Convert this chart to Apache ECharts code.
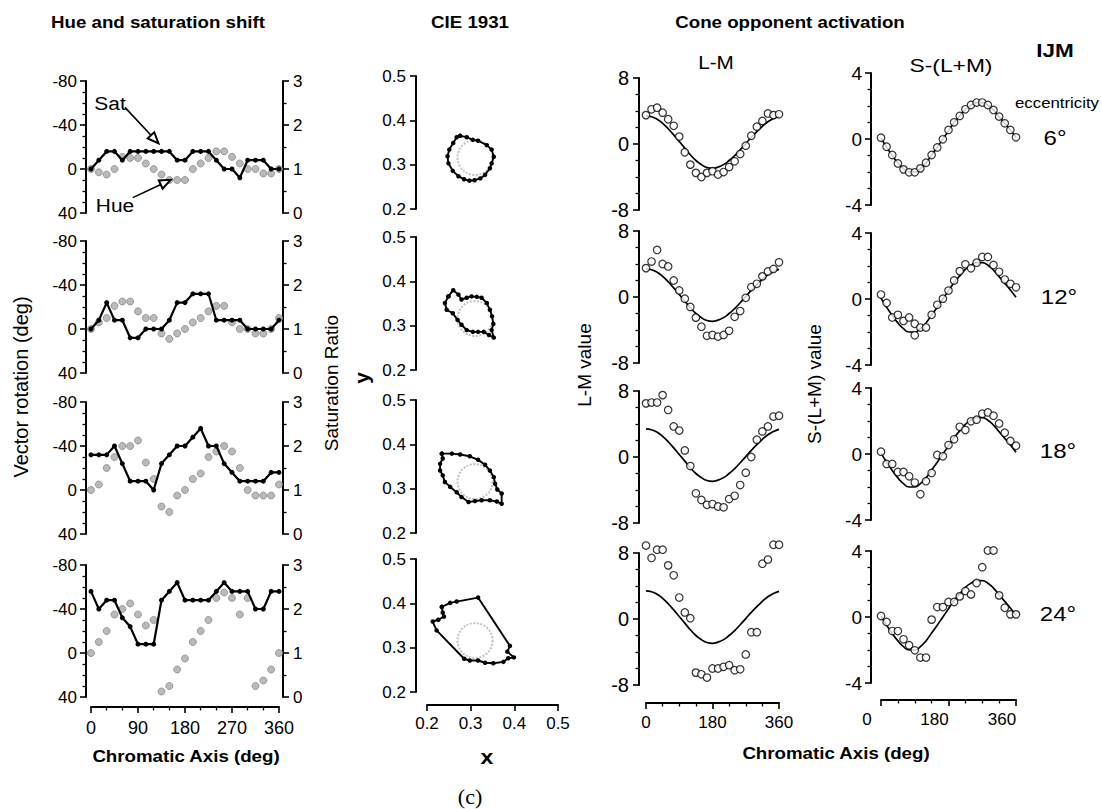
<!DOCTYPE html>
<html><head><meta charset="utf-8">
<script src="https://cdn.jsdelivr.net/npm/echarts@6/dist/echarts.min.js"></script>
<style>html,body{margin:0;padding:0;background:#fff}#c{width:1101px;height:809px}</style>
</head><body><div id="c"></div>
<script>
// ---------- DATA ----------
const chromaticAxis = [0,15,30,45,60,75,90,105,120,135,150,165,180,195,210,225,240,255,270,285,300,315,330,345,360];
const eccentricities = ['6°','12°','18°','24°'];

// Hue (vector rotation, deg) and saturation ratio per eccentricity
const hue6  = [0,3,5,0,-11,-10,-10,-5,0,5,10,10,10,0,-5,-10,-16,-16,-11,-5,0,0,4,4,0];
const hue12 = [0,-6,-10,-21,-25,-25,-16,-10,-10,4,9,4,0,-6,-10,-16,-21,-21,-6,0,0,4,4,0,-10];
const hue18 = [0,-5,-20,-30,-40,-40,-45,-25,-10,15,20,5,0,-10,-15,-30,-35,-40,-35,-20,0,5,5,5,-5];
const hue24 = [0,-10,-20,-35,-40,-45,-35,-25,-30,35,30,15,5,-10,-20,-30,-50,-55,-50,-35,-50,30,25,15,0];
const sat6  = [1.0,1.2,1.4,1.4,1.2,1.4,1.4,1.4,1.4,1.4,1.4,1.2,1.2,1.4,1.4,1.4,1.2,1.0,1.0,0.8,1.2,1.2,1.2,1.0,1.0];
const sat12 = [1.0,1.2,1.6,1.2,1.2,0.8,0.8,1.0,1.0,1.0,1.2,1.6,1.6,1.8,1.8,1.8,1.2,1.2,1.2,1.2,1.0,1.0,1.0,1.0,1.2];
const sat18 = [1.8,1.8,1.8,2.0,1.6,1.2,1.2,1.2,1.0,1.6,1.8,2.0,2.0,2.2,2.4,2.0,2.0,1.6,1.4,1.2,1.2,1.2,1.2,1.4,1.4];
const sat24 = [2.4,2.0,2.2,2.2,1.8,1.6,1.2,1.2,1.2,2.2,2.4,2.6,2.2,2.2,2.2,2.2,2.4,2.6,2.4,2.4,2.4,2.0,2.0,2.4,2.4];

// CIE 1931 xy loci (measured, closed outlines)
const cie6x  = [0.276,0.291,0.305,0.317,0.337,0.348,0.353,0.348,0.344,0.333,0.322,0.309,0.297,0.285,0.272,0.259,0.249,0.247,0.251,0.260,0.268,0.276];
const cie6y  = [0.365,0.362,0.356,0.354,0.344,0.334,0.318,0.303,0.292,0.277,0.269,0.265,0.264,0.267,0.274,0.286,0.303,0.319,0.334,0.349,0.362,0.365];
const cie12x = [0.249,0.260,0.272,0.279,0.291,0.302,0.314,0.325,0.337,0.344,0.349,0.352,0.348,0.353,0.342,0.330,0.317,0.305,0.291,0.279,0.270,0.259,0.245,0.241,0.249];
const cie12y = [0.366,0.380,0.370,0.359,0.363,0.366,0.365,0.363,0.351,0.336,0.321,0.304,0.290,0.273,0.279,0.286,0.286,0.286,0.290,0.302,0.313,0.328,0.336,0.351,0.366];
const cie18x = [0.234,0.257,0.276,0.298,0.317,0.333,0.344,0.353,0.356,0.361,0.371,0.371,0.360,0.344,0.325,0.310,0.295,0.279,0.268,0.253,0.241,0.236,0.230,0.230,0.236,0.234];
const cie18y = [0.379,0.379,0.377,0.373,0.365,0.354,0.341,0.326,0.311,0.298,0.289,0.266,0.271,0.274,0.274,0.272,0.270,0.281,0.292,0.304,0.315,0.330,0.341,0.356,0.368,0.379];
const cie24x = [0.234,0.253,0.268,0.317,0.390,0.384,0.399,0.386,0.375,0.352,0.333,0.317,0.298,0.285,0.222,0.213,0.226,0.239,0.236,0.234];
const cie24y = [0.392,0.401,0.404,0.413,0.304,0.291,0.278,0.276,0.268,0.265,0.266,0.271,0.271,0.275,0.339,0.359,0.363,0.370,0.379,0.392];
const cieReference = [0.31, 0.316]; // centre of the grey reference locus

// Cone opponent activation
const lm6  = [3.5,4.2,4.4,3.8,3.0,2.2,0.9,-1.0,-2.5,-3.5,-4.0,-3.5,-3.3,-3.7,-3.4,-2.8,-2.1,-1.2,-0.2,1.0,2.1,2.8,3.7,3.5,3.6];
const lm12 = [3.5,4.3,5.7,4.0,3.7,2.0,0.8,-0.2,-1.2,-2.5,-3.6,-4.7,-4.6,-4.8,-4.6,-4.1,-2.4,-1.7,-0.1,1.2,1.6,2.5,3.1,3.4,4.2];
const lm18 = [6.5,6.6,6.6,7.5,5.7,3.7,3.2,0.8,-1.1,-4.4,-5.2,-5.8,-5.7,-6.0,-6.1,-5.1,-4.7,-3.4,-1.9,0.0,2.1,3.1,3.7,4.9,5.0];
const lm24 = [8.9,7.4,8.4,8.4,6.5,5.3,2.6,0.8,0.1,-6.5,-6.7,-7.1,-6.0,-6.0,-5.8,-5.6,-6.2,-6.1,-4.3,-1.6,-1.6,6.7,7.2,9.0,9.0];
const lmFit = [3.4,3.3,3.0,2.5,1.85,1.1,0.3,-0.5,-1.3,-2.0,-2.5,-2.85,-2.95,-2.8,-2.5,-2.0,-1.4,-0.7,0.05,0.8,1.5,2.15,2.7,3.1,3.35];

const s6  = [0.08,-0.47,-0.97,-1.48,-1.84,-2.02,-2.02,-1.78,-1.44,-0.97,-0.51,-0.02,0.55,1.01,1.40,1.80,2.06,2.21,2.21,2.06,1.76,1.36,0.95,0.55,0.10];
const s12 = [0.27,-0.24,-1.12,-0.96,-1.33,-1.12,-1.5,-1.73,-1.73,-0.96,-0.35,0.02,0.51,1.12,1.69,2.10,1.86,2.20,2.55,2.55,2.06,1.65,1.18,0.92,0.71];
const s12extra = [[90,-2.2]];
const s18 = [0.14,-0.6,-0.6,-1.09,-1.09,-1.35,-1.73,-2.44,-1.65,-1.15,-0.06,-0.14,0.54,0.89,1.65,1.45,1.98,2.08,2.44,2.52,2.32,1.85,1.29,0.79,0.50];
const s24 = [0.06,-0.3,-0.85,-0.85,-1.35,-1.71,-2.02,-2.46,-2.46,-0.16,0.6,0.6,0.91,0.91,1.25,1.57,1.37,2.06,3.02,4.03,4.03,1.31,0.56,0.16,0.16];
const sFit = [0.05,-0.5,-1.0,-1.45,-1.8,-2.0,-2.0,-1.8,-1.45,-0.97,-0.5,0.0,0.5,1.0,1.4,1.8,2.05,2.2,2.2,2.05,1.75,1.35,0.95,0.55,0.1];

// ---------- CHART ----------
const FONT = 'Arial, "Liberation Sans", sans-serif';
const chart = echarts.init(document.getElementById('c'), null, {renderer:'svg'});
const grid=[], xAxis=[], yAxis=[], series=[];

function mkAxis(o){
  return {
    type:'value', gridIndex:o.gridIndex, min:o.min, max:o.max, interval:o.interval,
    inverse:!!o.inverse, position:o.position, offset:o.offset||0, show:o.show!==false,
    splitLine:{show:false},
    axisLine:{show:true, onZero:false, lineStyle:{color:'#000', width:o.lw||2}},
    axisTick:{show:true, length:6, lineStyle:{color:'#000', width:1.6}},
    minorTick:{show:!!o.minor, splitNumber:o.minor||5, length:3.5, lineStyle:{color:'#000', width:1.3}},
    axisLabel:{color:'#000', fontFamily:FONT, fontSize:o.fontSize||15, margin:o.margin||8,
      formatter:o.formatter, padding:o.padding||0}
  };
}
function pairs(xs, ys){ return xs.map((x,j)=>[x, ys[j]]); }

// Column 1: hue and saturation shift
const hueSets=[hue6,hue12,hue18,hue24], satSets=[sat6,sat12,sat18,sat24];
const c1Tops=[81,241,402,565];
for(let i=0;i<4;i++){
  const g=grid.length; grid.push({left:91, top:c1Tops[i], width:188, height:132});
  const xi=xAxis.length; xAxis.push(mkAxis({gridIndex:g,min:0,max:360,interval:90,show:i===3,offset:10,minor:3,fontSize:18,margin:12}));
  const yl=yAxis.length; yAxis.push(mkAxis({gridIndex:g,min:-80,max:40,interval:40,inverse:true,position:'left',offset:5,minor:4,fontSize:17,margin:9}));
  const yr=yAxis.length; yAxis.push(mkAxis({gridIndex:g,min:0,max:3,interval:1,position:'right',offset:4,minor:2,fontSize:17,margin:10}));
  const hs={type:'scatter', xAxisIndex:xi, yAxisIndex:yl, data:pairs(chromaticAxis,hueSets[i]), symbol:'circle', symbolSize:7,
    itemStyle:{color:'#a9a9a9', borderColor:'#8a8a8a', borderWidth:1}, z:2, clip:false};
  if(i===0){
    hs.markLine={silent:true, animation:false, symbol:['none','emptyTriangle'], symbolSize:[9,11],
      lineStyle:{color:'#000', width:1.6, type:'solid'}, label:{show:false},
      data:[[{coord:[65,-56]},{coord:[122,-27]}],[{coord:[80,26]},{coord:[143,12]}]]};
  }
  series.push(hs);
  series.push({type:'line', xAxisIndex:xi, yAxisIndex:yr, data:pairs(chromaticAxis,satSets[i]), symbol:'circle', symbolSize:5,
    itemStyle:{color:'#000'}, lineStyle:{color:'#000', width:2.2}, z:3, clip:false});
}

// Column 2: CIE 1931
const cieX=[cie6x,cie12x,cie18x,cie24x], cieY=[cie6y,cie12y,cie18y,cie24y];
const c2Tops=[76,237,400,559];
const f1=v=>v.toFixed(1);
for(let i=0;i<4;i++){
  const g=grid.length; grid.push({left:427, top:c2Tops[i], width:131, height:133});
  const xi=xAxis.length; xAxis.push(mkAxis({gridIndex:g,min:0.2,max:0.5,interval:0.1,show:i===3,offset:13,fontSize:17,margin:10,formatter:f1}));
  const yi=yAxis.length; yAxis.push(mkAxis({gridIndex:g,min:0.2,max:0.5,interval:0.1,position:'left',offset:11,fontSize:17,margin:10,formatter:f1}));
  series.push({type:'scatter', xAxisIndex:xi, yAxisIndex:yi, data:[cieReference], symbol:'circle', symbolSize:35,
    itemStyle:{color:'rgba(0,0,0,0)', borderColor:'#b3b3b3', borderWidth:2, borderType:[2,1.5]}, z:1});
  series.push({type:'line', xAxisIndex:xi, yAxisIndex:yi, data:pairs(cieX[i],cieY[i]), symbol:'circle', symbolSize:4.5,
    itemStyle:{color:'#000'}, lineStyle:{color:'#000', width:1.9}, z:3, clip:false});
}

// Column 3: L-M
const lmSets=[lm6,lm12,lm18,lm24];
const c3Tops=[78,231,391,553];
const openCircle={color:'#fff', borderColor:'#000', borderWidth:1.2};
for(let i=0;i<4;i++){
  const g=grid.length; grid.push({left:646, top:c3Tops[i], width:133, height:132});
  const xi=xAxis.length; xAxis.push(mkAxis({gridIndex:g,min:0,max:360,interval:180,show:i===3,offset:18,minor:4,fontSize:17,margin:11}));
  const yi=yAxis.length; yAxis.push(mkAxis({gridIndex:g,min:-8,max:8,interval:8,position:'left',offset:7,minor:4,fontSize:20,margin:10}));
  series.push({type:'line', xAxisIndex:xi, yAxisIndex:yi, data:pairs(chromaticAxis,lmFit), smooth:true, symbol:'none',
    lineStyle:{color:'#000', width:1.7}, z:2, clip:false});
  series.push({type:'scatter', xAxisIndex:xi, yAxisIndex:yi, data:pairs(chromaticAxis,lmSets[i]), symbol:'circle', symbolSize:7.5,
    itemStyle:openCircle, z:3, clip:false});
}

// Column 4: S-(L+M)
const sSets=[s6,s12,s18,s24];
const c4Tops=[73,233,388,551];
for(let i=0;i<4;i++){
  const g=grid.length; grid.push({left:881, top:c4Tops[i], width:135, height:132});
  const xi=xAxis.length; xAxis.push(mkAxis({gridIndex:g,min:0,max:360,interval:180,show:i===3,offset:17,minor:4,fontSize:17,margin:11,padding:[0,28,0,0]}));
  const yi=yAxis.length; yAxis.push(mkAxis({gridIndex:g,min:-4,max:4,interval:4,position:'left',offset:10,minor:4,fontSize:19,margin:9}));
  series.push({type:'line', xAxisIndex:xi, yAxisIndex:yi, data:pairs(chromaticAxis,sFit), smooth:true, symbol:'none',
    lineStyle:{color:'#000', width:1.7}, z:2, clip:false});
  const pts=pairs(chromaticAxis,sSets[i]).concat(i===1?s12extra:[]);
  series.push({type:'scatter', xAxisIndex:xi, yAxisIndex:yi, data:pts, symbol:'circle', symbolSize:7.5,
    itemStyle:openCircle, z:3, clip:false});
}

// ---------- TEXT ----------
function txt(text, x, y, size, opt){
  opt=opt||{};
  return {type:'text', x:x, y:y, rotation:opt.rot||0, scaleX:opt.sx||1, z:10, silent:true,
    style:{text:text, fill:'#000', font:(opt.bold?'bold ':'')+size+'px '+(opt.family||FONT),
      textAlign:'center', textVerticalAlign:'middle', align:'center', verticalAlign:'middle'}};
}
const R=Math.PI/2;
const graphic=[
  txt('Hue and saturation shift',158,22,17,{bold:true,sx:1.1}),
  txt('CIE 1931',470,22,17,{bold:true,sx:1.1}),
  txt('Cone opponent activation',790,22,17,{bold:true,sx:1.1}),
  txt('L-M',716,63,18,{sx:1.15}),
  txt('S-(L+M)',951,65,19,{sx:1.2}),
  txt('IJM',1055,51,18,{bold:true,sx:1.25}),
  txt('eccentricity',1057,103,14,{sx:1.2}),
  txt(eccentricities[0],1055,138,20,{sx:1.2}),
  txt(eccentricities[1],1059,297,20,{sx:1.2}),
  txt(eccentricities[2],1058,451,20,{sx:1.2}),
  txt(eccentricities[3],1058,614,20,{sx:1.2}),
  txt('Sat',110,103,19,{sx:1.1}),
  txt('Hue',115,205,19,{sx:1.1}),
  txt('Vector rotation (deg)',21,387,20,{rot:R}),
  txt('Saturation Ratio',331,383,19,{rot:R}),
  txt('y',361,378,21,{rot:R,bold:true}),
  txt('x',487,757,21,{bold:true,sx:1.1}),
  txt('L-M value',584,365,19,{rot:R}),
  txt('S-(L+M) value',814,384,19,{rot:R}),
  txt('Chromatic Axis (deg)',186,756,17,{bold:true,sx:1.1}),
  txt('Chromatic Axis (deg)',836,753,17,{bold:true,sx:1.1}),
  txt('(c)',470,797,20,{family:'"Liberation Serif", "Times New Roman", serif',sx:1.1})
];

chart.setOption({animation:false, backgroundColor:'#fff', grid, xAxis, yAxis, series, graphic});
</script>
</body></html>
